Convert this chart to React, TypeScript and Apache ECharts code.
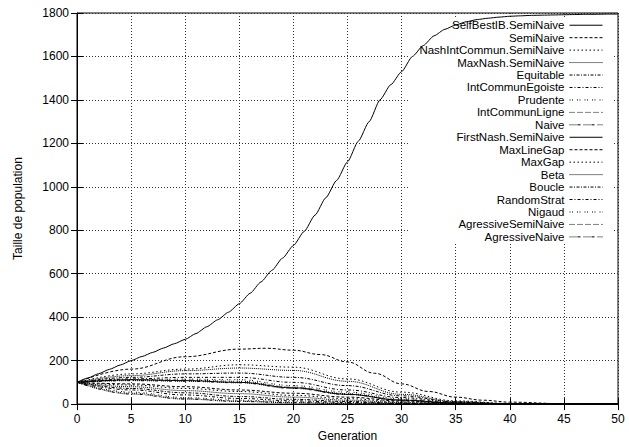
import React, { useEffect, useRef } from 'react';
import * as echarts from 'echarts';

// Generations (x values)
const GENS_FINE = [0, 1, 2, 3, 4, 5, 6, 7, 8, 9, 10, 11, 12, 13, 14, 15, 16, 17, 18, 19, 20, 21, 22, 23, 24, 25, 26, 27, 28, 29, 30, 31, 32, 33, 34, 35, 36, 37, 38, 39, 40, 41, 42, 43, 44, 45, 46, 47, 48, 49, 50];
const GENS_SEMI = [0, 5, 10, 15, 17.5, 20, 22.5, 25, 27.5, 30, 32.5, 35, 37.5, 40, 45, 50];
const GENS = [0, 5, 10, 15, 20, 25, 30, 35, 40, 45, 50];

// Series values
const SELF_BEST_IB_SEMI_NAIVE = [100, 120, 140, 160, 180, 200, 219, 238, 258, 278, 298, 325, 356, 388, 423, 462, 510, 562, 615, 672, 730, 795, 870, 950, 1030, 1115, 1210, 1300, 1400, 1470, 1530, 1600, 1650, 1695, 1725, 1745, 1760, 1770, 1776, 1781, 1785, 1787, 1789, 1790, 1791, 1792, 1793, 1794, 1794, 1795, 1795];
const SEMI_NAIVE = [100, 161, 218, 253, 257, 248, 228, 194, 142, 93, 58, 32, 18, 9, 2, 0];
const NASH_INT_COMMUN_SEMI_NAIVE = [100, 139, 161, 181, 170, 116, 55, 15, 3, 0, 0];
const MAX_NASH_SEMI_NAIVE = [100, 131, 154, 166, 155, 105, 45, 12, 2, 0, 0];
const EQUITABLE = [100, 123, 139, 143, 123, 85, 38, 10, 2, 0, 0];
const INT_COMMUN_EGOISTE = [100, 116, 123, 123, 100, 65, 30, 8, 1, 0, 0];
const PRUDENTE = [100, 112, 115, 112, 85, 55, 25, 6, 1, 0, 0];
const INT_COMMUN_LIGNE = [100, 110, 110, 105, 78, 48, 20, 5, 1, 0, 0];
const NAIVE = [100, 108, 105, 98, 72, 44, 18, 4, 1, 0, 0];
const FIRST_NASH_SEMI_NAIVE = [100, 112, 108, 100, 75, 45, 18, 5, 1, 0, 0];
const MAX_LINE_GAP = [100, 93, 80, 65, 50, 32, 14, 4, 1, 0, 0];
const MAX_GAP = [100, 88, 72, 58, 40, 25, 10, 3, 0, 0, 0];
const BETA = [100, 80, 62, 48, 32, 18, 7, 2, 0, 0, 0];
const BOUCLE = [100, 72, 52, 35, 22, 12, 4, 1, 0, 0, 0];
const RANDOM_STRAT = [100, 65, 42, 26, 15, 8, 3, 1, 0, 0, 0];
const NIGAUD = [100, 55, 30, 18, 10, 5, 2, 0, 0, 0, 0];
const AGRESSIVE_SEMI_NAIVE = [100, 50, 25, 14, 7, 3, 1, 0, 0, 0, 0];
const AGRESSIVE_NAIVE = [100, 46, 23, 12, 6, 2, 1, 0, 0, 0, 0];

const X_TICKS = { min: 0, max: 50, interval: 5 };
const Y_TICKS = { min: 0, max: 1800, interval: 200 };

const SERIES_DEFS = [
  { name: 'SelfBestIB.SemiNaive', x: GENS_FINE, y: SELF_BEST_IB_SEMI_NAIVE },
  { name: 'SemiNaive', x: GENS_SEMI, y: SEMI_NAIVE },
  { name: 'NashIntCommun.SemiNaive', x: GENS, y: NASH_INT_COMMUN_SEMI_NAIVE },
  { name: 'MaxNash.SemiNaive', x: GENS, y: MAX_NASH_SEMI_NAIVE },
  { name: 'Equitable', x: GENS, y: EQUITABLE },
  { name: 'IntCommunEgoiste', x: GENS, y: INT_COMMUN_EGOISTE },
  { name: 'Prudente', x: GENS, y: PRUDENTE },
  { name: 'IntCommunLigne', x: GENS, y: INT_COMMUN_LIGNE },
  { name: 'Naive', x: GENS, y: NAIVE },
  { name: 'FirstNash.SemiNaive', x: GENS, y: FIRST_NASH_SEMI_NAIVE },
  { name: 'MaxLineGap', x: GENS, y: MAX_LINE_GAP },
  { name: 'MaxGap', x: GENS, y: MAX_GAP },
  { name: 'Beta', x: GENS, y: BETA },
  { name: 'Boucle', x: GENS, y: BOUCLE },
  { name: 'RandomStrat', x: GENS, y: RANDOM_STRAT },
  { name: 'Nigaud', x: GENS, y: NIGAUD },
  { name: 'AgressiveSemiNaive', x: GENS, y: AGRESSIVE_SEMI_NAIVE },
  { name: 'AgressiveNaive', x: GENS, y: AGRESSIVE_NAIVE },
];

const DASHES: any[] = [
  'solid',
  [3, 2],
  [1.5, 2.5],
  [1, 1],
  [3, 1.5, 1, 1.5],
  [3, 2, 1, 2],
  [1, 1.5, 1, 4],
  [1, 1, 1, 1, 1, 3],
  [1, 1, 1, 1, 1, 1, 1, 1, 3, 3],
];

const FONT = "'Liberation Sans', Arial, Helvetica, sans-serif";

export default function App() {
  const ref = useRef<HTMLDivElement>(null);
  useEffect(() => {
    if (!ref.current) return;
    const chart = echarts.init(ref.current, null, { renderer: 'svg' });
    const axisTick = { show: true, inside: true, length: 6, lineStyle: { color: '#000', width: 1 } };
    const option: any = {
      animation: false,
      backgroundColor: '#fff',
      textStyle: { fontFamily: FONT },
      grid: { left: 77, right: 11, top: 13, bottom: 40, show: true, borderColor: '#000', borderWidth: 1, backgroundColor: 'transparent' },
      legend: {
        orient: 'vertical',
        align: 'right',
        right: 17,
        top: 19,
        z: 1,
        itemWidth: 33,
        itemHeight: 8,
        itemGap: 0,
        padding: [0, 9, 0, 10],
        backgroundColor: '#fff',
        selectedMode: false,
        itemStyle: { color: 'rgba(0,0,0,0)', borderColor: 'rgba(0,0,0,0)', borderWidth: 0, opacity: 0 },
        lineStyle: { width: 1 },
        textStyle: { color: '#000', fontSize: 11.5, fontFamily: FONT, lineHeight: 12.45 },
        data: SERIES_DEFS.map((d) => d.name),
      },
      xAxis: [
        {
          type: 'value',
          ...X_TICKS,
          name: 'Generation',
          nameLocation: 'middle',
          nameGap: 25,
          nameTextStyle: { color: '#000', fontSize: 12, fontFamily: FONT },
          axisLine: { show: true, lineStyle: { color: '#000' } },
          axisTick,
          axisLabel: { color: '#000', fontSize: 12, fontFamily: FONT, margin: 9 },
          splitLine: { show: true, lineStyle: { color: '#333', width: 1, type: [1, 2] } },
        },
        {
          type: 'value',
          position: 'top',
          ...X_TICKS,
          axisLine: { show: false },
          axisTick,
          axisLabel: { show: false },
          splitLine: { show: false },
        },
      ],
      yAxis: [
        {
          type: 'value',
          ...Y_TICKS,
          name: 'Taille de population',
          nameLocation: 'middle',
          nameGap: 53,
          nameTextStyle: { color: '#000', fontSize: 12, fontFamily: FONT },
          axisLine: { show: true, lineStyle: { color: '#000' } },
          axisTick,
          axisLabel: { color: '#000', fontSize: 12, fontFamily: FONT, margin: 8, formatter: (v: number) => String(v) },
          splitLine: { show: true, lineStyle: { color: '#333', width: 1, type: [1, 2] } },
        },
        {
          type: 'value',
          position: 'right',
          ...Y_TICKS,
          axisLine: { show: false },
          axisTick,
          axisLabel: { show: false },
          splitLine: { show: false },
        },
      ],
      series: SERIES_DEFS.map((d, i) => ({
        type: 'line',
        name: d.name,
        xAxisIndex: 0,
        yAxisIndex: 0,
        data: d.x.map((g, j) => [g, d.y[j]]),
        symbol: 'none',
        showSymbol: false,
        smooth: i === 0 ? 0.2 : 0.4,
        smoothMonotone: 'x',
        lineStyle: { color: '#000', width: 1, type: DASHES[i % DASHES.length] },
        itemStyle: { color: '#000' },
        z: 2,
      })),
    };
    chart.setOption(option);
    return () => chart.dispose();
  }, []);
  return <div ref={ref} style={{ width: 629, height: 447, position: 'absolute', left: 0, top: 0 }} />;
}
